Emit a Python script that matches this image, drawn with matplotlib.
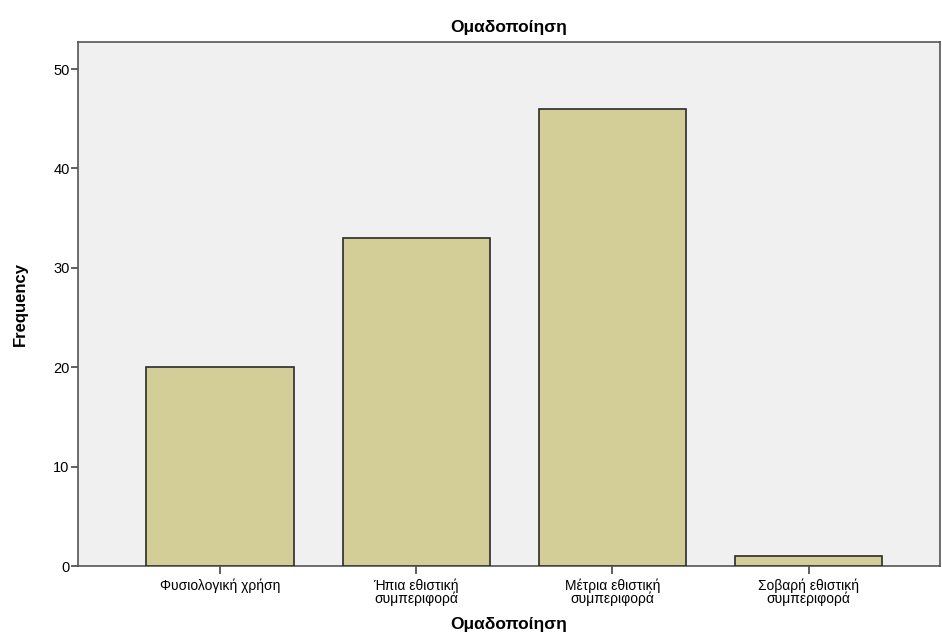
import matplotlib.pyplot as plt
import numpy as np

plt.rcParams['font.family'] = ['Liberation Sans', 'DejaVu Sans']

categories = ['Φυσιολογική χρήση', 'Ήπια εθιστική\nσυμπεριφορά',
              'Μέτρια εθιστική\nσυμπεριφορά', 'Σοβαρή εθιστική\nσυμπεριφορά']
counts = [20, 33, 46, 1]
yticks = [0, 10, 20, 30, 40, 50]

fig = plt.figure(figsize=(9.42, 6.39), dpi=100)
ax = fig.add_axes([0.0828, 0.1142, 0.9152, 0.8198])
ax.set_facecolor('#F0F0F0')

x = np.arange(len(categories))
ax.bar(x, counts, width=0.75, color='#D3CE97', edgecolor='#2b2b2b', linewidth=1.2, zorder=3)

ax.set_xlim(-0.724, 3.67)
ax.set_ylim(0, 52.7)
ax.set_xticks(x)
ax.set_xticklabels(categories, fontsize=10, linespacing=0.88)
ax.set_yticks(yticks)
ax.tick_params(axis='y', labelsize=10.5, length=5, width=1.2, color='#444444', pad=1)
ax.tick_params(axis='x', length=6, width=1.2, color='#444444', pad=3)

for s in ax.spines.values():
    s.set_color('#555555')
    s.set_linewidth(1.2)

ax.set_title('Ομαδοποίηση', fontsize=12.5, fontweight='bold', pad=7)
ax.set_xlabel('Ομαδοποίηση', fontsize=12.5, fontweight='bold', labelpad=8)
ax.set_ylabel('Frequency', fontsize=12, fontweight='bold', labelpad=18)

fig.savefig('out.png', dpi=100)
